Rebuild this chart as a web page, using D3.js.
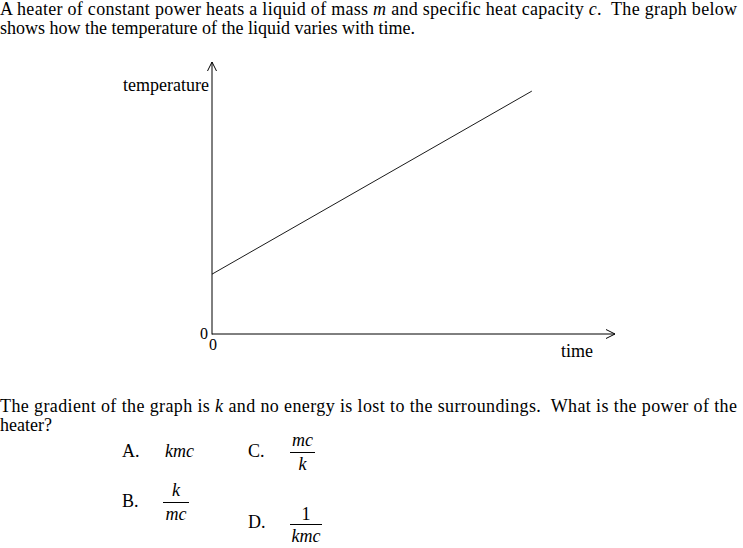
<!DOCTYPE html>
<html><head><meta charset="utf-8">
<script src="https://cdn.jsdelivr.net/npm/d3@7"></script>
<style>
html,body{margin:0;padding:0;background:#fff;}
svg{display:block;}
</style></head>
<body>
<svg id="c" width="743" height="548"></svg>
<script>
// ---- data ----
const times = [0, 10];
const temps = [2.2, 8.93];
const xDomain = [0, 12.6];
const yDomain = [0, 10];
const xAxisLabel = "time";
const yAxisLabel = "temperature";
const introLines = [
  ["A heater of constant power heats a liquid of mass ", {i:"m"}, " and specific heat capacity ", {i:"c"}, ".  The graph below"],
  ["shows how the temperature of the liquid varies with time."]
];
const questionLines = [
  ["The gradient of the graph is ", {i:"k"}, " and no energy is lost to the surroundings.  What is the power of the"],
  ["heater?"]
];

const FONT = "'Liberation Serif', Tinos, 'Times New Roman', 'DejaVu Serif', serif";
const svg = d3.select("#c").attr("font-family", FONT).style("font-family", FONT);
const x = d3.scaleLinear().domain(xDomain).range([212, 615]);
const y = d3.scaleLinear().domain(yDomain).range([334, 62]);

function T(px, py, size) {
  return svg.append("text").attr("x", px).attr("y", py).attr("font-size", size || 18)
    .style("font-family", FONT).attr("fill", "#000");
}
function richLine(parts, px, py, justifyWidth) {
  const t = T(px, py, 18).style("white-space", "pre");
  parts.forEach(p => {
    if (typeof p === "string") t.append("tspan").style("white-space", "pre").text(p);
    else t.append("tspan").attr("font-style", "italic").text(p.i);
  });
  if (justifyWidth) t.attr("textLength", justifyWidth).attr("lengthAdjust", "spacing");
  return t;
}
richLine(introLines[0], 0, 15, 737);
richLine(introLines[1], 0, 34);
richLine(questionLines[0], 0, 412, 737);
richLine(questionLines[1], 0, 431);

// axes
const g = svg.append("g").attr("stroke", "#000").attr("fill", "none").attr("stroke-width", 1);
g.append("line").attr("x1", x(0)).attr("x2", x(0)).attr("y1", y(0) + 0.5).attr("y2", y(yDomain[1]));
g.append("line").attr("x1", x(0)).attr("x2", x(xDomain[1])).attr("y1", y(0)).attr("y2", y(0));
g.append("path").attr("d", `M${x(0)-4.5},${y(yDomain[1])+9}L${x(0)},${y(yDomain[1])}L${x(0)+4.5},${y(yDomain[1])+9}`);
g.append("path").attr("d", `M${x(xDomain[1])-9},${y(0)-4.5}L${x(xDomain[1])},${y(0)}L${x(xDomain[1])-9},${y(0)+4.5}`);

// data line
g.append("path").attr("stroke-width", 0.9)
  .attr("d", d3.line().x((d,i)=>x(times[i])).y(d=>y(d))(temps));

// labels
T(209, 91).attr("text-anchor", "end").text(yAxisLabel);
T(577, 357).attr("text-anchor", "middle").text(xAxisLabel);
T(x(0) - 4, y(0) + 5, 16).attr("text-anchor", "end").text("0");
T(x(0) + 1, y(0) + 16, 16).attr("text-anchor", "middle").text("0");

// options
function opt(letter, lx, ly) { T(lx, ly).text(letter); }
function ital(s, cx, cy, anchor) {
  T(cx, cy).attr("font-style", "italic").attr("text-anchor", anchor || "middle").text(s);
}
function frac(num, den, x1, x2, by, numItalic, numGap) {
  const cx = (x1 + x2) / 2;
  const t = T(cx, by - numGap).attr("text-anchor", "middle").text(num);
  if (numItalic) t.attr("font-style", "italic");
  ital(den, cx, by + 17);
  svg.append("line").attr("x1", x1).attr("x2", x2).attr("y1", by).attr("y2", by).attr("stroke", "#000").attr("stroke-width", 1);
}
opt("A.", 122, 457);
ital("kmc", 165, 457, "start");
opt("C.", 248, 457);
frac("mc", "k", 290, 315, 452.5, true, 7);
opt("B.", 122, 507);
frac("k", "mc", 163, 189, 502.5, true, 7);
opt("D.", 248, 528);
frac("1", "kmc", 290, 322, 524.5, false, 5);
</script>
</body></html>
